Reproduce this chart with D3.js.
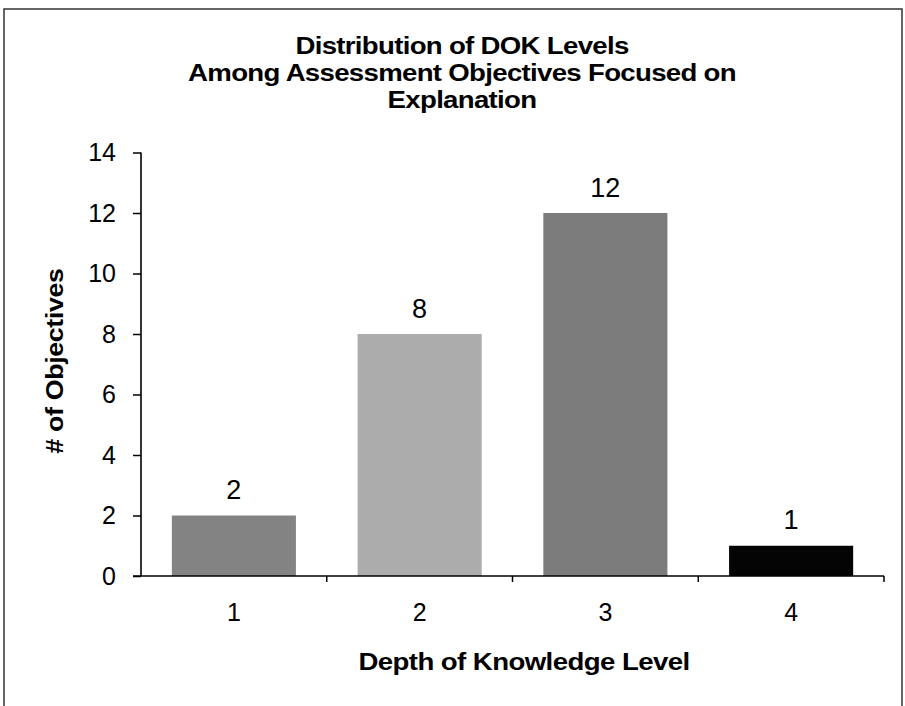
<!DOCTYPE html>
<html><head><meta charset="utf-8">
<script src="https://cdn.jsdelivr.net/npm/d3@7"></script>
<style>body{margin:0;background:#fff}svg{display:block}</style>
</head><body>
<svg id="c" width="905" height="706"></svg>
<script>
const categories = ["1","2","3","4"];
const values = [2, 8, 12, 1];
const yTicks = [0,2,4,6,8,10,12,14];
const titleLines = ["Distribution of DOK Levels","Among Assessment Objectives Focused on","Explanation"];
const barColors = ["#838383","#acacac","#7c7c7c","#040404"];

const svg = d3.select("#c");
const font = "'Liberation Sans', Arial, sans-serif";
const L = 141, R = 884, T = 152.5, B = 576;
const stretch = 1.15;

// frame
svg.append("rect").attr("x",4).attr("y",9).attr("width",898).attr("height",720)
  .attr("fill","none").attr("stroke","#333").attr("stroke-width",1.5);

const x = d3.scaleBand().domain(categories).range([L,R]).paddingInner(0.332).paddingOuter(0.166);
const y = d3.scaleLinear().domain([0,14]).range([B,T]);

// title
svg.append("g").attr("transform",`translate(462,0) scale(${stretch},1)`)
  .append("text").attr("text-anchor","middle")
  .attr("font-family",font).attr("font-weight","bold").attr("font-size",24)
  .selectAll("tspan").data(titleLines).join("tspan")
  .attr("x",0).attr("y",(d,i)=>54+i*26.8).attr("letter-spacing",-0.6).text(d=>d);

// bars
svg.selectAll("rect.bar").data(values).join("rect").attr("class","bar")
  .attr("x",(d,i)=>x(categories[i])).attr("width",x.bandwidth())
  .attr("y",d=>y(d)).attr("height",d=>B-y(d))
  .attr("fill",(d,i)=>barColors[i]);

// value labels
svg.selectAll("text.val").data(values).join("text").attr("class","val")
  .attr("x",(d,i)=>x(categories[i])+x.bandwidth()/2).attr("y",d=>y(d)-16.5)
  .attr("text-anchor","middle").attr("font-family",font).attr("font-size",27)
  .text(d=>d);

// y axis
const yAxis = d3.axisLeft(y).tickValues(yTicks).tickSize(8).tickPadding(17).tickFormat(d3.format("d"));
const gy = svg.append("g").attr("transform",`translate(${L},0)`).call(yAxis);
gy.select(".domain").attr("stroke","#000").attr("stroke-width",1.6).attr("d",`M0,${T}V${B}`);
gy.selectAll(".tick line").attr("stroke","#000").attr("stroke-width",1.5);
gy.selectAll(".tick text").attr("font-family",font).attr("font-size",25).attr("fill","#000");

// x axis
const xAxis = d3.axisBottom(x).tickSize(0).tickPadding(27);
const gx = svg.append("g").attr("transform",`translate(0,${B})`).call(xAxis);
gx.select(".domain").attr("stroke","#000").attr("stroke-width",1.6).attr("d",`M${L-8},0H${R}`);
gx.selectAll(".tick text").attr("font-family",font).attr("font-size",25).attr("fill","#000");
// boundary ticks
const bounds = categories.slice(1).map(c => x(c) - x.step()*x.paddingInner()/2).concat([R]);
svg.append("g").selectAll("line").data(bounds).join("line")
  .attr("x1",d=>d).attr("x2",d=>d).attr("y1",B).attr("y2",B+6)
  .attr("stroke","#000").attr("stroke-width",1.5);

// axis titles
svg.append("g").attr("transform",`translate(524,670) scale(${stretch},1)`)
  .append("text").attr("text-anchor","middle")
  .attr("font-family",font).attr("font-weight","bold").attr("font-size",24).attr("letter-spacing",-0.5)
  .text("Depth of Knowledge Level");
svg.append("g").attr("transform",`translate(63,361) rotate(-90) scale(${stretch*0.97},1)`)
  .append("text").attr("text-anchor","middle")
  .attr("font-family",font).attr("font-weight","bold").attr("font-size",24).attr("letter-spacing",-0.3)
  .text("# of Objectives");
</script>
</body></html>
